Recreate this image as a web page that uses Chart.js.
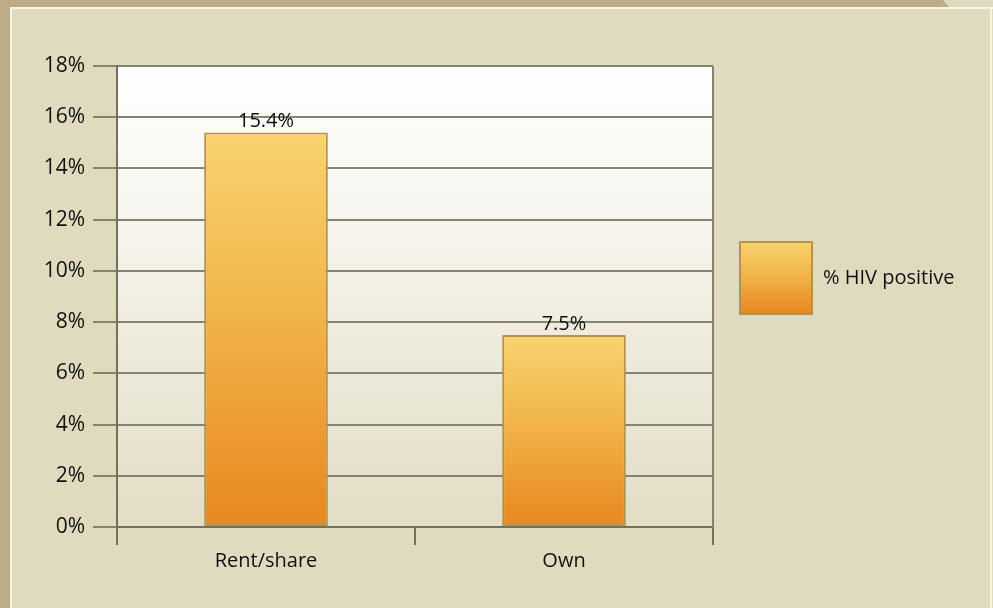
<!DOCTYPE html>
<html>
<head>
<meta charset="utf-8">
<script src="https://cdn.jsdelivr.net/npm/chart.js@4.4.0/dist/chart.umd.min.js"></script>
<style>
  html, body { margin: 0; padding: 0; background: #e0dbbf; }
  #wrap { width: 993px; height: 608px; position: relative; }
</style>
</head>
<body>
<div id="wrap"><canvas id="hivChart" width="993" height="608"></canvas></div>
<script>
const categories = ["Rent/share", "Own"];
const hivPositive = [15.4, 7.5];
const seriesName = "% HIV positive";
const yTicks = [0, 2, 4, 6, 8, 10, 12, 14, 16, 18];

const FONT = "'Open Sans', 'Noto Sans', sans-serif";

function barGradient(ctx, top, bottom) {
  let g = ctx.createLinearGradient(0, top, 0, bottom);
  g.addColorStop(0, "#f9d36e");
  g.addColorStop(0.45, "#f1b54b");
  g.addColorStop(1, "#e8871f");
  return g;
}

// page frame + plot background
const framePlugin = {
  id: "frame",
  beforeDraw(chart) {
    const c = chart.ctx;
    const a = chart.chartArea;
    c.save();
    c.fillStyle = "#e0dbbf";
    c.fillRect(0, 0, chart.width, chart.height);
    c.fillStyle = "#bcad88";
    c.fillRect(0, 0, 10, chart.height);
    c.beginPath();
    c.moveTo(0, 0);
    c.lineTo(943, 0);
    c.lineTo(949, 7);
    c.lineTo(0, 7);
    c.closePath();
    c.fill();
    c.fillStyle = "#f6f3e6";
    c.fillRect(10, 7, 983, 2);
    c.fillRect(10, 7, 2, chart.height - 7);
    c.fillRect(990, 7, 2, chart.height - 7);
    // plot area gradient
    let g = c.createLinearGradient(0, a.top, 0, a.bottom);
    g.addColorStop(0, "#ffffff");
    g.addColorStop(0.35, "#f6f4ec");
    g.addColorStop(1, "#e2ddc4");
    c.fillStyle = g;
    c.fillRect(a.left, a.top, a.right - a.left, a.bottom - a.top);
    c.restore();
  },
  afterDatasetsDraw(chart) {
    const c = chart.ctx;
    const a = chart.chartArea;
    c.save();
    // right frame line
    c.strokeStyle = "#85826e";
    c.lineWidth = 2;
    c.beginPath();
    c.moveTo(a.right, a.top);
    c.lineTo(a.right, a.bottom);
    c.stroke();
    // value labels
    const meta = chart.getDatasetMeta(0);
    c.fillStyle = "#111111";
    c.font = "20px " + FONT;
    c.textAlign = "center";
    c.textBaseline = "bottom";
    meta.data.forEach((bar, i) => {
      c.fillText(hivPositive[i].toFixed(1) + "%", bar.x, bar.y - 1);
    });
    // legend
    const lx = 740, ly = 242, ls = 72;
    c.fillStyle = barGradient(c, ly, ly + ls);
    c.fillRect(lx, ly, ls, ls);
    c.strokeStyle = "#b4944a";
    c.lineWidth = 2;
    c.strokeRect(lx, ly, ls, ls);
    c.fillStyle = "#111111";
    c.textAlign = "left";
    c.textBaseline = "middle";
    c.fillText(seriesName, 823, ly + ls / 2);
    c.restore();
  }
};

let ctx = document.getElementById("hivChart").getContext("2d");
let hivChart = new Chart(ctx, {
  type: "bar",
  data: {
    labels: categories,
    datasets: [{
      label: seriesName,
      data: hivPositive,
      backgroundColor: (context) => {
        const chart = context.chart;
        if (!chart.chartArea || context.parsed === undefined) return "#f1b54b";
        const y = chart.scales.y;
        return barGradient(chart.ctx, y.getPixelForValue(context.parsed.y), y.getPixelForValue(0));
      },
      borderColor: "#b4944a",
      borderWidth: 2,
      borderSkipped: false,
      barPercentage: 0.415,
      categoryPercentage: 1
    }]
  },
  options: {
    responsive: false,
    animation: false,
    layout: { padding: { left: 0, right: 280, top: 66, bottom: 0 } },
    plugins: {
      legend: { display: false },
      tooltip: { enabled: false }
    },
    scales: {
      y: {
        min: 0,
        max: 18,
        afterBuildTicks: (scale) => { scale.ticks = yTicks.map(v => ({ value: v })); },
        afterFit: (scale) => { scale.width = 117; },
        ticks: {
          callback: (v) => v + "%",
          color: "#111111",
          padding: 8,
          font: { family: FONT, size: 21 }
        },
        grid: { color: "#86836f", lineWidth: 2, tickLength: 24 },
        border: { color: "#73705c", width: 2 }
      },
      x: {
        afterFit: (scale) => { scale.height = 81; },
        ticks: {
          color: "#111111",
          padding: 4,
          font: { family: FONT, size: 20 }
        },
        grid: { offset: true, drawOnChartArea: false, color: "#73705c", lineWidth: 2, tickLength: 18 },
        border: { color: "#73705c", width: 2 }
      }
    }
  },
  plugins: [framePlugin]
});
</script>
</body>
</html>
